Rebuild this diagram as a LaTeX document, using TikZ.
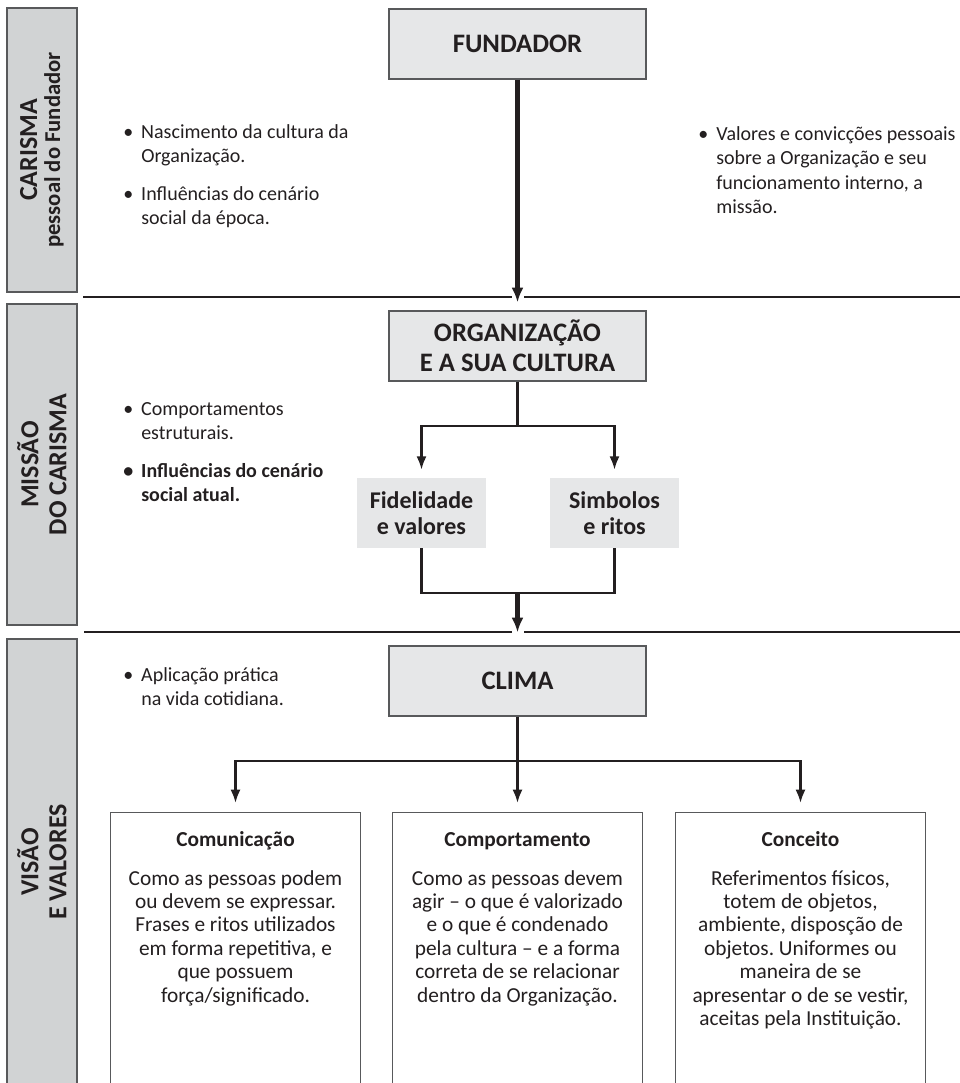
\documentclass[tikz,border=0pt]{standalone}
\usepackage{fontspec}
\setmainfont{Carlito}
\usepackage{tikz}
\usetikzlibrary{positioning, calc, arrows.meta}
\frenchspacing

\definecolor{ink}{HTML}{231F20}
\definecolor{barfill}{HTML}{D1D3D4}
\definecolor{boxfill}{HTML}{E6E7E8}
\definecolor{edge}{HTML}{58595B}

\newcommand{\bitem}[1]{\begin{tabular}[t]{@{}p{13.5pt}@{}l@{}}\textbullet & #1\end{tabular}}

\begin{document}
\begin{tikzpicture}[x=0.75pt, y=-0.75pt,
        every node/.style={text=ink, inner sep=0pt},
        bar/.style={rectangle, draw=edge, fill=barfill, line width=1pt, rotate=90, minimum height=52.5pt, align=center, font=\fontsize{19.5}{21}\selectfont\bfseries},
        box/.style={rectangle, draw=edge, fill=boxfill, line width=0.9pt, minimum width=192.75pt, minimum height=52.5pt, align=center, font=\fontsize{20}{22.5}\selectfont\bfseries},
        tag/.style={rectangle, fill=boxfill, minimum width=96.75pt, minimum height=52.5pt, align=center, font=\fontsize{18}{19.5}\selectfont\bfseries},
        panel/.style={rectangle, draw=edge, fill=white, line width=0.9pt, minimum width=187.5pt, minimum height=208.5pt, anchor=north},
        title/.style={anchor=base, font=\fontsize{16}{18}\selectfont\bfseries},
        body/.style={anchor=base, font=\fontsize{16}{17.6}\selectfont},
        note/.style={anchor=base west, font=\fontsize{15}{18.4}\selectfont},
        link/.style={draw=ink, line width=1.7pt},
        arrow/.style={link, -{Latex[length=10pt, width=7.5pt]}},
        bigarrow/.style={draw=ink, line width=3.2pt, -{Latex[length=11pt, width=9pt]}},
        rule/.style={draw=ink, line width=2pt}
    ]
        \useasboundingbox (0, 0) rectangle (960, 1083);
        \clip (0, 0) rectangle (960, 1083);

        % Side bars
        \node[bar, minimum width=213pt] (carisma) at (42, 150) {CARISMA\\[-3.75pt]{\fontsize{17}{17}\selectfont pessoal do Fundador}};
        \node[bar, minimum width=240.75pt] (missao) at (42, 464.5) {MISSÃO\\DO CARISMA};
        \node[bar, minimum width=334.5pt] (visao) at (42, 862) {VISÃO\\E VALORES};

        % Dividers
        \draw[rule] (83, 297) -- (512, 297) (524, 297) -- (960, 297);
        \draw[rule] (84, 632) -- (512, 632) (524, 632) -- (960, 632);

        % Main boxes
        \node[box] (fund) at (517.5, 44) {FUNDADOR};
        \node[box] (org) at (517.5, 346) {ORGANIZAÇÃO\\E A SUA CULTURA};
        \node[tag] (fid) at (421.5, 513) {Fidelidade\\e valores};
        \node[tag] (simb) at (614.5, 513) {Simbolos\\e ritos};
        \node[box] (clima) at (517.5, 681) {CLIMA};

        % Notes
        \node[note] (nasc) at (123, 138) {\bitem{Nascimento da cultura da\\&Organização.}};
        \node[note] (infl) at (123, 200) {\bitem{Influências do cenário\\&social da época.}};
        \node[note] (valo) at (698, 140) {\bitem{Valores e convicções pessoais\\&sobre a Organização e seu\\&funcionamento interno, a\\&missão.}};
        \node[note] (estr) at (123, 415) {\bitem{Comportamentos\\&estruturais.}};
        \node[note, font=\fontsize{15}{18.4}\selectfont\bfseries] (atual) at (123, 477) {\bitem{Influências do cenário\\&social atual.}};
        \node[note] (apli) at (123, 681) {\bitem{Aplicação prática\\&na vida cotidiana.}};

        % Panels
        \node[panel] (com) at (235.5, 812) {};
        \node[panel] (comp) at (517.5, 812) {};
        \node[panel] (conc) at (800.5, 812) {};

        \node[title] (comhead) at (235.5, 846) {Comunicação};
        \node[title] (comphead) at (517.5, 846) {Comportamento};
        \node[title] (conchead) at (800.5, 846) {Conceito};

        \node[body] (combody) at (235.5, 885) {\begin{tabular}[t]{@{}c@{}}Como as pessoas podem\\ou devem se expressar.\\Frases e ritos utilizados\\em forma repetitiva, e\\que possuem\\força/significado.\end{tabular}};
        \node[body] (compbody) at (517.5, 885) {\begin{tabular}[t]{@{}c@{}}Como as pessoas devem\\agir – o que é valorizado\\e o que é condenado\\pela cultura – e a forma\\correta de se relacionar\\dentro da Organização.\end{tabular}};
        \node[body] (concbody) at (800.5, 885) {\begin{tabular}[t]{@{}c@{}}Referimentos físicos,\\totem de objetos,\\ambiente, disposção de\\objetos. Uniformes ou\\maneira de se\\apresentar o de se vestir,\\aceitas pela Instituição.\end{tabular}};

        % Arrows
        \draw[bigarrow, shorten >=6pt] (fund.south) -- (org.north);

        \coordinate (split) at (517.5, 426);
        \draw[link] (org.south) -- (split);
        \draw[arrow, shorten >=6pt] (split) -| (fid.north);
        \draw[arrow, shorten >=6pt] (split) -| (simb.north);

        \coordinate (merge) at (517.5, 593);
        \draw[link] (fid.south) |- (merge) -| (simb.south);
        \draw[bigarrow, shorten >=9.75pt] (merge) -- (clima.north);

        \coordinate (fan) at (517.5, 761);
        \draw[link] (clima.south) -- (fan);
        \draw[arrow, shorten >=6.75pt] (fan) -| (com.north);
        \draw[arrow, shorten >=6.75pt] (fan) -- (comp.north);
        \draw[arrow, shorten >=6.75pt] (fan) -| (conc.north);

    \end{tikzpicture}
\end{document}
